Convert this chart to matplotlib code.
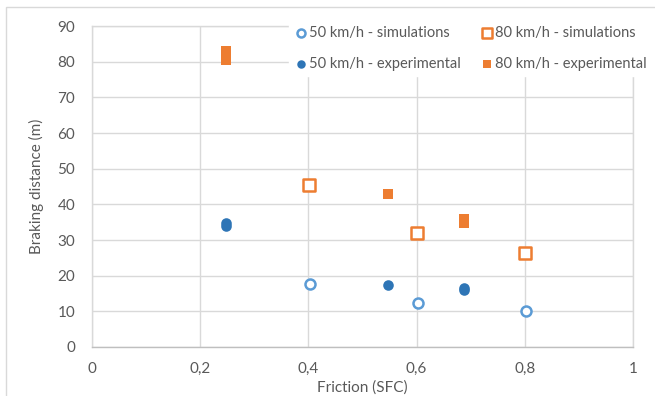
import matplotlib
matplotlib.use("Agg")
import matplotlib.pyplot as plt
from matplotlib.patches import Rectangle
from matplotlib.ticker import FuncFormatter

plt.rcParams['font.family'] = ['Lato', 'DejaVu Sans']

# Data
sim50_x = [0.403, 0.603, 0.803]
sim50_y = [17.7, 12.4, 10.0]
sim80_x = [0.401, 0.601, 0.801]
sim80_y = [45.5, 32.1, 26.3]
exp50_x = [0.248, 0.248, 0.548, 0.688, 0.688]
exp50_y = [33.9, 34.9, 17.5, 15.9, 16.5]
exp80_x = [0.248, 0.248, 0.548, 0.688, 0.688]
exp80_y = [80.4, 83.0, 43.0, 34.7, 35.8]

x_ticks = [0, 0.2, 0.4, 0.6, 0.8, 1.0]
y_ticks = list(range(0, 91, 10))

W, H = 655, 396
fig = plt.figure(figsize=(W / 100, H / 100), dpi=100)
ax = fig.add_axes([92 / W, 1 - 347 / H, (633 - 92) / W, (347 - 26) / H])

# Outer chart border
fig.patches.append(Rectangle((6 / W, -0.1), 1.2, 1 - 7 / H + 0.1, transform=fig.transFigure,
                             fill=False, edgecolor='#d9d9d9', linewidth=1.0, zorder=0))

blue_l = '#5b9bd5'
blue_d = '#2e75b6'
orange = '#ed7d31'

ax.scatter(sim50_x, sim50_y, s=52, facecolors='white', edgecolors=blue_l, linewidths=1.8,
           marker='o', label='50 km/h - simulations', zorder=3)
ax.scatter(sim80_x, sim80_y, s=70, facecolors='white', edgecolors=orange, linewidths=1.8,
           marker='s', label='80 km/h - simulations', zorder=3)
ax.scatter(exp50_x, exp50_y, s=58, color=blue_d, marker='o', linewidths=0,
           label='50 km/h - experimental', zorder=3)
ax.scatter(exp80_x, exp80_y, s=46, color=orange, marker='s', linewidths=0,
           label='80 km/h - experimental', zorder=3)

ax.set_xlim(0, 1)
ax.set_ylim(0, 90)
ax.set_xticks(x_ticks)
ax.set_yticks(y_ticks)
ax.xaxis.set_major_formatter(FuncFormatter(lambda v, p: ('%g' % v).replace('.', ',')))
ax.grid(True, color='#d9d9d9', linewidth=1.0, zorder=0)
ax.set_axisbelow(True)
for s in ax.spines.values():
    s.set_color('#d9d9d9')
    s.set_linewidth(1.0)
ax.spines['bottom'].set_color('#bfbfbf')
ax.tick_params(length=0, colors='#595959', labelsize=11, pad=12)
ax.tick_params(axis='x', pad=11)
ax.set_xlabel('Friction (SFC)', color='#595959', fontsize=11, labelpad=3)
ax.set_ylabel('Braking distance (m)', color='#595959', fontsize=11, labelpad=10)

handles, labels = ax.get_legend_handles_labels()
order = [0, 2, 1, 3]
leg = fig.legend([handles[i] for i in order], [labels[i] for i in order],
                 loc='upper left', bbox_to_anchor=(282 / W, 1 - 14 / H), ncol=2,
                 frameon=True, fancybox=False, edgecolor='white', framealpha=1,
                 fontsize=10.5, labelspacing=1.2, columnspacing=1.3,
                 handletextpad=0.05, handlelength=1.0, borderpad=0.3,
                 markerscale=0.8)
for t in leg.get_texts():
    t.set_color('#595959')

fig.savefig('out.png', dpi=100)
